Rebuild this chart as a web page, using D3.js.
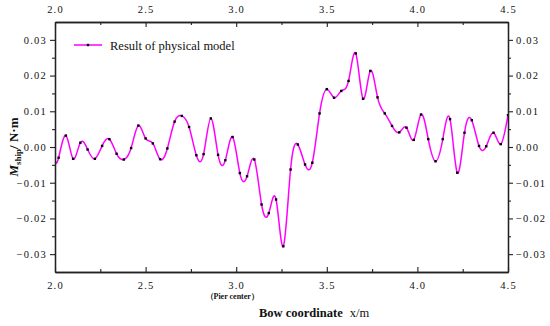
<!DOCTYPE html>
<html>
<head>
<meta charset="utf-8">
<script src="https://cdn.jsdelivr.net/npm/d3@7"></script>
<style>
  html, body { margin: 0; padding: 0; background: #fff; }
  svg { display: block; }
</style>
</head>
<body>
<svg id="chart" width="550" height="326"></svg>
<script>
// ---- data ----
const bowX = [2.00, 2.02, 2.06, 2.10, 2.14, 2.18, 2.22, 2.26, 2.30, 2.34, 2.38, 2.42, 2.46, 2.50,
  2.54, 2.58, 2.62, 2.66, 2.70, 2.74, 2.78, 2.82, 2.86, 2.90, 2.94, 2.98, 3.02, 3.06, 3.10,
  3.14, 3.18, 3.22, 3.26, 3.30, 3.34, 3.38, 3.42, 3.46, 3.50, 3.54, 3.58, 3.62, 3.66, 3.70,
  3.74, 3.78, 3.82, 3.86, 3.90, 3.94, 3.98, 4.02, 4.06, 4.10, 4.14, 4.18, 4.22, 4.26, 4.30,
  4.34, 4.38, 4.42, 4.46, 4.50];
const momentShip = [-0.0042, -0.0030, 0.0032, -0.0033, 0.0012, -0.0007, -0.0033, 0.0003, 0.0022, -0.0019,
  -0.0035, -0.0003, 0.0060, 0.0024, 0.0010, -0.0034, -0.0004, 0.0071, 0.0087, 0.0056,
  -0.0023, -0.0020, 0.0080, -0.0022, -0.0037, 0.0028, -0.0073, -0.0082, -0.0035,
  -0.0161, -0.0185, -0.0147, -0.0278, -0.0063, 0.0007, -0.0049, -0.0044, 0.0094, 0.0162,
  0.0138, 0.0157, 0.0185, 0.0262, 0.0135, 0.0213, 0.0139, 0.0094, 0.0059, 0.0041, 0.0054,
  0.0020, 0.0091, 0.0022, -0.0040, 0.0022, 0.0078, -0.0072, 0.0040, 0.0075, 0.0003,
  0.0002, 0.0040, 0.0008, 0.0089];
const xTicks = [2.0, 2.5, 3.0, 3.5, 4.0, 4.5];
const xMinorTicks = [2.25, 2.75, 3.25, 3.75, 4.25];
const yTicks = [-0.03, -0.02, -0.01, 0.00, 0.01, 0.02, 0.03];
const yMinorTicks = [-0.025, -0.015, -0.005, 0.005, 0.015, 0.025];
const seriesName = "Result of physical model";

// ---- layout ----
const L = 55, R = 508, T = 22, B = 272;
const SERIF = "'Liberation Serif', 'DejaVu Serif', serif";
const svg = d3.select("#chart");
const x = d3.scaleLinear().domain([2.0, 4.5]).range([L, R]);
const y = d3.scaleLinear().domain([-0.035, 0.035]).range([B, T]);
const fmtX = d3.format(".1f");
const fmtY = d3.format(".2f");

// clip
svg.append("defs").append("clipPath").attr("id", "clip")
  .append("rect").attr("x", L).attr("y", T).attr("width", R - L).attr("height", B - T);

// data line
const pts = bowX.map((v, i) => [v, momentShip[i]]);
const line = d3.line().x(d => x(d[0])).y(d => y(d[1])).curve(d3.curveNatural);
const g = svg.append("g").attr("clip-path", "url(#clip)");
g.append("path").datum(pts).attr("d", line)
  .attr("fill", "none").attr("stroke", "#ff00ff").attr("stroke-width", 1.5);
g.selectAll("rect.pt").data(pts).enter().append("rect").attr("class", "pt")
  .attr("x", d => x(d[0]) - 1.2).attr("y", d => y(d[1]) - 1.2)
  .attr("width", 2.4).attr("height", 2.4).attr("fill", "#000");

// axes
function styleAxis(sel) {
  sel.attr("font-family", null).attr("font-size", null);
  sel.select(".domain").attr("stroke", "#222").attr("stroke-width", 1.3);
  sel.selectAll(".tick line").attr("stroke", "#222").attr("stroke-width", 1.1);
  sel.selectAll(".tick text").style("font-family", SERIF).style("font-size", "10.5px")
    .style("letter-spacing", "1.2px").attr("fill", "#111");
}
// bottom (ticks inward)
svg.append("g").attr("transform", `translate(0,${B})`)
  .call(d3.axisBottom(x).tickValues(xTicks).tickFormat(fmtX).tickSizeInner(-5).tickSizeOuter(0).tickPadding(10))
  .call(styleAxis);
svg.append("g").attr("transform", `translate(0,${B})`)
  .call(d3.axisBottom(x).tickValues(xMinorTicks).tickFormat("").tickSizeInner(-3).tickSizeOuter(0))
  .call(styleAxis);
// top (ticks inward)
svg.append("g").attr("transform", `translate(0,${T})`)
  .call(d3.axisTop(x).tickValues(xTicks).tickFormat(fmtX).tickSizeInner(-5).tickSizeOuter(0).tickPadding(9))
  .call(styleAxis);
svg.append("g").attr("transform", `translate(0,${T})`)
  .call(d3.axisTop(x).tickValues(xMinorTicks).tickFormat("").tickSizeInner(-3).tickSizeOuter(0))
  .call(styleAxis);
// left (ticks outward)
svg.append("g").attr("transform", `translate(${L},0)`)
  .call(d3.axisLeft(y).tickValues(yTicks).tickFormat(fmtY).tickSizeInner(5).tickSizeOuter(0).tickPadding(3))
  .call(styleAxis);
svg.append("g").attr("transform", `translate(${L},0)`)
  .call(d3.axisLeft(y).tickValues(yMinorTicks).tickFormat("").tickSizeInner(3).tickSizeOuter(0))
  .call(styleAxis);
// right (ticks outward)
svg.append("g").attr("transform", `translate(${R},0)`)
  .call(d3.axisRight(y).tickValues(yTicks).tickFormat(fmtY).tickSizeInner(5).tickSizeOuter(0).tickPadding(3))
  .call(styleAxis);
svg.append("g").attr("transform", `translate(${R},0)`)
  .call(d3.axisRight(y).tickValues(yMinorTicks).tickFormat("").tickSizeInner(3).tickSizeOuter(0))
  .call(styleAxis);

// legend
const lg = svg.append("g");
lg.append("line").attr("x1", 74).attr("x2", 102).attr("y1", 45).attr("y2", 45)
  .attr("stroke", "#ff00ff").attr("stroke-width", 1.5);
lg.append("rect").attr("x", 86.8).attr("y", 43.8).attr("width", 2.4).attr("height", 2.4).attr("fill", "#000");
lg.append("text").attr("x", 110).attr("y", 49.5)
  .style("font-family", SERIF).style("font-size", "12.5px").attr("fill", "#111")
  .text(seriesName);

// annotation under 3.0
svg.append("text").attr("x", x(3.0) - 4).attr("y", 298.5).attr("text-anchor", "middle")
  .style("font-family", SERIF).style("font-size", "8px").style("font-weight", "bold")
  .attr("fill", "#111").text("（Pier center）");

// x-axis title
const xt = svg.append("text").attr("x", 259).attr("y", 317)
  .style("font-family", SERIF).style("font-size", "12.5px").attr("fill", "#111");
xt.append("tspan").style("font-weight", "bold").text("Bow coordinate");
xt.append("tspan").attr("dx", 7).text("x/m");

// y-axis title
const yt = svg.append("text").attr("transform", "translate(18,147) rotate(-90)").attr("text-anchor", "middle")
  .style("font-family", SERIF).style("font-size", "13px").style("font-weight", "bold").attr("fill", "#111");
yt.append("tspan").style("font-style", "italic").text("M");
yt.append("tspan").attr("dy", 3).style("font-size", "9px").text("ship");
yt.append("tspan").attr("dy", -3).text("/ N·m");
</script>
</body>
</html>
